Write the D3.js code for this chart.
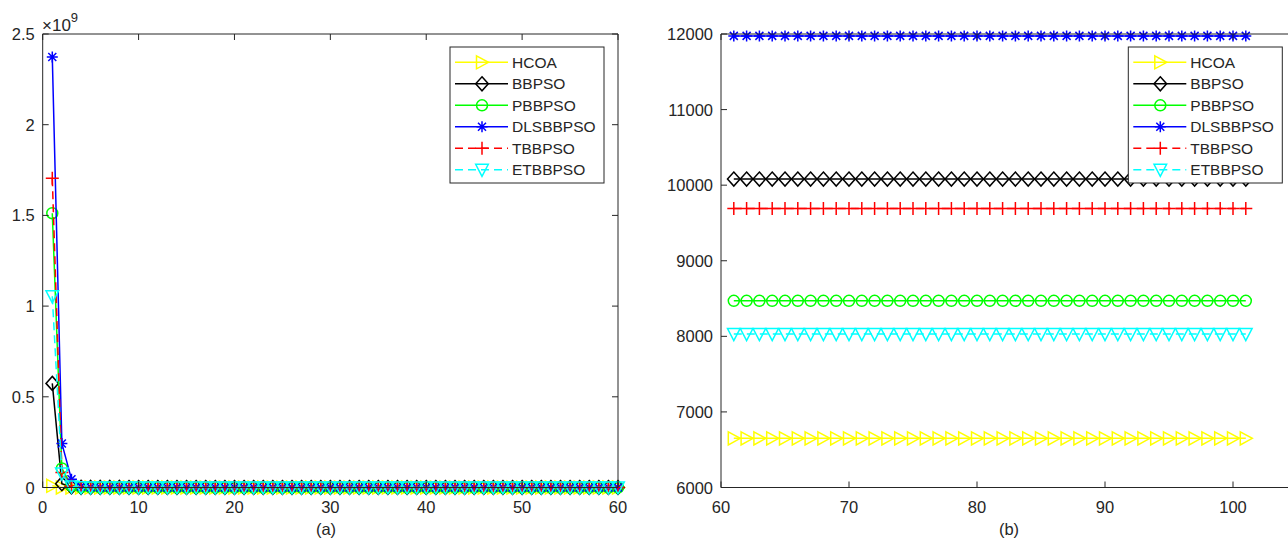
<!DOCTYPE html>
<html>
<head>
<meta charset="utf-8">
<script src="https://cdn.jsdelivr.net/npm/d3@7"></script>
<style>
  html, body { margin: 0; padding: 0; background: #fff; }
  svg { display: block; }
  text { font-family: "Liberation Sans", Arial, sans-serif; fill: #262626; }
</style>
</head>
<body>
<svg id="chart" width="1288" height="545"></svg>
<script>
// ---- series names and styles ----
const seriesNames = ["HCOA", "BBPSO", "PBBPSO", "DLSBBPSO", "TBBPSO", "ETBBPSO"];
const seriesColors = ["#ffff00", "#000000", "#00ff00", "#0000ff", "#ff0000", "#00ffff"];
const seriesDashed = [false, false, false, false, true, true];
const seriesMarkers = ["triRight", "diamond", "circle", "star", "plus", "triDown"];

// ---- panel (a): iterations 1..60 ----
const iterA = [1,2,3,4,5,6,7,8,9,10,11,12,13,14,15,16,17,18,19,20,21,22,23,24,25,26,27,28,29,30,
               31,32,33,34,35,36,37,38,39,40,41,42,43,44,45,46,47,48,49,50,51,52,53,54,55,56,57,58,59,60];
const hcoaA = [9.2e6, 4.1e5, 6.1e4, 1.9e4, 1.1e4, 8700, 7900, 7400, 7100, 6950,
               6880, 6830, 6800, 6780, 6760, 6740, 6730, 6720, 6710, 6700,
               6695, 6690, 6688, 6685, 6683, 6680, 6678, 6676, 6674, 6672,
               6670, 6669, 6668, 6667, 6666, 6665, 6664, 6663, 6662, 6661,
               6660, 6659, 6658, 6657, 6657, 6656, 6656, 6655, 6655, 6654,
               6654, 6653, 6653, 6653, 6652, 6652, 6652, 6651, 6651, 6651];
const bbpsoA = [5.74e8, 2.1e7, 3.2e6, 9.5e5, 3.1e5, 1.2e5, 5.4e4, 3.1e4, 2.0e4, 1.5e4,
                13000, 11800, 11200, 10800, 10600, 10450, 10350, 10280, 10230, 10200,
                10180, 10160, 10150, 10140, 10130, 10120, 10115, 10110, 10105, 10100,
                10098, 10096, 10094, 10092, 10090, 10089, 10088, 10087, 10086, 10085,
                10084, 10084, 10083, 10083, 10082, 10082, 10081, 10081, 10081, 10080,
                10080, 10080, 10080, 10080, 10080, 10080, 10080, 10080, 10080, 10080];
const pbbpsoA = [1.512e9, 1.05e8, 9.8e6, 1.4e6, 3.3e5, 9.1e4, 3.2e4, 1.7e4, 1.2e4, 10100,
                 9400, 9050, 8850, 8730, 8650, 8600, 8570, 8550, 8535, 8520,
                 8510, 8502, 8496, 8491, 8487, 8484, 8482, 8480, 8478, 8477,
                 8476, 8475, 8474, 8474, 8473, 8473, 8472, 8472, 8472, 8471,
                 8471, 8471, 8471, 8470, 8470, 8470, 8470, 8470, 8470, 8470,
                 8470, 8470, 8470, 8470, 8470, 8470, 8470, 8470, 8470, 8470];
const dlsA = [2.373e9, 2.43e8, 4.6e7, 6.2e6, 1.1e6, 2.4e5, 7.1e4, 3.0e4, 1.9e4, 15200,
              13600, 12800, 12450, 12270, 12170, 12110, 12070, 12045, 12030, 12018,
              12010, 12004, 12000, 11996, 11993, 11990, 11988, 11986, 11985, 11984,
              11983, 11982, 11981, 11980, 11979, 11979, 11978, 11978, 11977, 11977,
              11977, 11976, 11976, 11976, 11976, 11976, 11975, 11975, 11975, 11975,
              11975, 11975, 11975, 11975, 11975, 11975, 11975, 11975, 11975, 11975];
const tbbpsoA = [1.705e9, 8.3e7, 8.5e6, 1.2e6, 2.6e5, 7.4e4, 2.9e4, 1.6e4, 1.2e4, 10800,
                 10300, 10050, 9920, 9840, 9790, 9760, 9740, 9728, 9719, 9712,
                 9707, 9703, 9700, 9698, 9697, 9696, 9695, 9694, 9693, 9693,
                 9692, 9692, 9692, 9691, 9691, 9691, 9691, 9690, 9690, 9690,
                 9690, 9690, 9690, 9690, 9690, 9690, 9690, 9690, 9690, 9690,
                 9690, 9690, 9690, 9690, 9690, 9690, 9690, 9690, 9690, 9690];
const etbbpsoA = [1.054e9, 7.7e7, 5.2e6, 8.8e5, 1.9e5, 5.6e4, 2.2e4, 1.3e4, 10100, 9000,
                  8600, 8380, 8250, 8170, 8120, 8090, 8070, 8058, 8050, 8044,
                  8040, 8038, 8036, 8035, 8034, 8033, 8033, 8032, 8032, 8032,
                  8031, 8031, 8031, 8031, 8031, 8030, 8030, 8030, 8030, 8030,
                  8030, 8030, 8030, 8030, 8030, 8030, 8030, 8030, 8030, 8030,
                  8030, 8030, 8030, 8030, 8030, 8030, 8030, 8030, 8030, 8030];

// ---- panel (b): iterations 61..101 ----
const iterB = [61,62,63,64,65,66,67,68,69,70,71,72,73,74,75,76,77,78,79,80,
               81,82,83,84,85,86,87,88,89,90,91,92,93,94,95,96,97,98,99,100,101];
const hcoaB = [6650,6650,6650,6650,6650,6650,6650,6650,6650,6650,6650,6650,6650,6650,6650,6650,6650,6650,6650,6650,
               6650,6650,6650,6650,6650,6650,6650,6650,6650,6650,6650,6650,6650,6650,6650,6650,6650,6650,6650,6650,6650];
const bbpsoB = [10080,10080,10080,10080,10080,10080,10080,10080,10080,10080,10080,10080,10080,10080,10080,10080,10080,10080,10080,10080,
                10080,10080,10080,10080,10080,10080,10080,10080,10080,10080,10080,10080,10080,10080,10080,10080,10080,10080,10080,10080,10080];
const pbbpsoB = [8470,8470,8470,8470,8470,8470,8470,8470,8470,8470,8470,8470,8470,8470,8470,8470,8470,8470,8470,8470,
                 8470,8470,8470,8470,8470,8470,8470,8470,8470,8470,8470,8470,8470,8470,8470,8470,8470,8470,8470,8470,8470];
const dlsB = [11975,11975,11975,11975,11975,11975,11975,11975,11975,11975,11975,11975,11975,11975,11975,11975,11975,11975,11975,11975,
              11975,11975,11975,11975,11975,11975,11975,11975,11975,11975,11975,11975,11975,11975,11975,11975,11975,11975,11975,11975,11975];
const tbbpsoB = [9690,9690,9690,9690,9690,9690,9690,9690,9690,9690,9690,9690,9690,9690,9690,9690,9690,9690,9690,9690,
                 9690,9690,9690,9690,9690,9690,9690,9690,9690,9690,9690,9690,9690,9690,9690,9690,9690,9690,9690,9690,9690];
const etbbpsoB = [8030,8030,8030,8030,8030,8030,8030,8030,8030,8030,8030,8030,8030,8030,8030,8030,8030,8030,8030,8030,
                  8030,8030,8030,8030,8030,8030,8030,8030,8030,8030,8030,8030,8030,8030,8030,8030,8030,8030,8030,8030,8030];

// ---- tick labels ----
const xTicksA = [0, 10, 20, 30, 40, 50, 60];
const yTicksA = [0, 0.5e9, 1e9, 1.5e9, 2e9, 2.5e9];
const yTickLabelsA = ["0", "0.5", "1", "1.5", "2", "2.5"];
const xTicksB = [60, 70, 80, 90, 100];
const yTicksB = [6000, 7000, 8000, 9000, 10000, 11000, 12000];
const panelLabels = ["(a)", "(b)"];

const seriesA = [hcoaA, bbpsoA, pbbpsoA, dlsA, tbbpsoA, etbbpsoA];
const seriesB = [hcoaB, bbpsoB, pbbpsoB, dlsB, tbbpsoB, etbbpsoB];

const svg = d3.select("#chart");
const AXIS = "#262626";

// marker shape paths centred at the origin
function markerPath(kind) {
  switch (kind) {
    case "triRight": return "M-5.5,-6.5L6.5,0L-5.5,6.5Z";
    case "diamond":  return "M0,-7L6.3,0L0,7L-6.3,0Z";
    case "circle":   return "M5.5,0A5.5,5.5 0 1 1 -5.5,0A5.5,5.5 0 1 1 5.5,0Z";
    case "star":     return "M-5.5,0L5.5,0M0,-5.5L0,5.5M-4,-4L4,4M-4,4L4,-4";
    case "plus":     return "M-6.5,0L6.5,0M0,-6.5L0,6.5";
    case "triDown":  return "M-6.3,-5.5L6.3,-5.5L0,6.5Z";
  }
}

function drawPanel(opt) {
  const { x0, x1, y0, y1, xDomain, yDomain, xTicks, yTicks, yLabels, iters, series, legendX, label, labelX } = opt;
  const x = d3.scaleLinear().domain(xDomain).range([x0, x1]);
  const y = d3.scaleLinear().domain(yDomain).range([y0, y1]);
  const g = svg.append("g");

  // white plot area
  g.append("rect").attr("x", x0).attr("y", y1).attr("width", x1 - x0).attr("height", y0 - y1).attr("fill", "#fff");

  // series lines and markers
  series.forEach((vals, i) => {
    const pts = iters.map((it, j) => [it, vals[j]]);
    const line = d3.line().x(d => x(d[0])).y(d => y(d[1]));
    g.append("path")
      .attr("d", line(pts))
      .attr("fill", "none")
      .attr("stroke", seriesColors[i])
      .attr("stroke-width", 1.5)
      .attr("stroke-dasharray", seriesDashed[i] ? "8,5" : null);
    g.append("g").selectAll("path")
      .data(pts)
      .join("path")
      .attr("transform", d => `translate(${x(d[0])},${y(d[1])})`)
      .attr("d", markerPath(seriesMarkers[i]))
      .attr("fill", "none")
      .attr("stroke", seriesColors[i])
      .attr("stroke-width", 1.5);
  });

  // box axes with inward ticks
  const axG = g.append("g").attr("stroke", AXIS).attr("stroke-width", 1).attr("fill", "none");
  axG.append("path").attr("d", `M${x0},${y1}L${x0},${y0}L${x1},${y0}`);
  axG.append("path").attr("d", `M${x0},${y1}L${x1},${y1}L${x1},${y0}`);
  xTicks.forEach(t => {
    const px = x(t);
    axG.append("path").attr("d", `M${px},${y0}L${px},${y0 - 6}M${px},${y1}L${px},${y1 + 6}`);
  });
  yTicks.forEach(t => {
    const py = y(t);
    axG.append("path").attr("d", `M${x0},${py}L${x0 + 6},${py}M${x1},${py}L${x1 - 6},${py}`);
  });

  // tick labels
  g.append("g").selectAll("text").data(xTicks).join("text")
    .attr("x", d => x(d)).attr("y", y0 + 25)
    .attr("text-anchor", "middle").attr("font-size", 16.5)
    .text(d => d);
  g.append("g").selectAll("text").data(yTicks).join("text")
    .attr("x", x0 - 8).attr("y", d => y(d) + 6)
    .attr("text-anchor", "end").attr("font-size", 16.5)
    .text((d, i) => yLabels ? yLabels[i] : d);

  // panel caption
  g.append("text").attr("x", labelX).attr("y", 535)
    .attr("text-anchor", "middle").attr("font-size", 16.5).text(label);

  // legend
  const lg = g.append("g").attr("transform", `translate(${legendX},47)`);
  lg.append("rect").attr("x", 0).attr("y", 0).attr("width", 154).attr("height", 136)
    .attr("fill", "#fff").attr("stroke", AXIS).attr("stroke-width", 1);
  seriesNames.forEach((name, i) => {
    const ry = 15.3 + i * 21.5;
    lg.append("path").attr("d", `M5,${ry}L58,${ry}`)
      .attr("stroke", seriesColors[i]).attr("stroke-width", 1.5)
      .attr("stroke-dasharray", seriesDashed[i] ? "8,5" : null);
    lg.append("path").attr("transform", `translate(32,${ry})`)
      .attr("d", markerPath(seriesMarkers[i]))
      .attr("fill", "none").attr("stroke", seriesColors[i]).attr("stroke-width", 1.5);
    lg.append("text").attr("x", 62).attr("y", ry + 5.5).attr("font-size", 15.5).text(name);
  });
  return { x, y };
}

drawPanel({
  x0: 42.7, x1: 618, y0: 487.5, y1: 34,
  xDomain: [0, 60], yDomain: [0, 2.5e9],
  xTicks: xTicksA, yTicks: yTicksA, yLabels: yTickLabelsA,
  iters: iterA, series: seriesA, legendX: 450, label: panelLabels[0], labelX: 326
});

// exponent label of panel (a)
const expo = svg.append("text").attr("x", 42).attr("y", 31).attr("font-size", 17);
expo.append("tspan").text("\u00d710");
expo.append("tspan").attr("dy", -9).attr("font-size", 13).text("9");

drawPanel({
  x0: 721, x1: 1361, y0: 487.5, y1: 34,
  xDomain: [60, 110], yDomain: [6000, 12000],
  xTicks: xTicksB, yTicks: yTicksB, yLabels: null,
  iters: iterB, series: seriesB, legendX: 1128.3, label: panelLabels[1], labelX: 1009
});
</script>
</body>
</html>
